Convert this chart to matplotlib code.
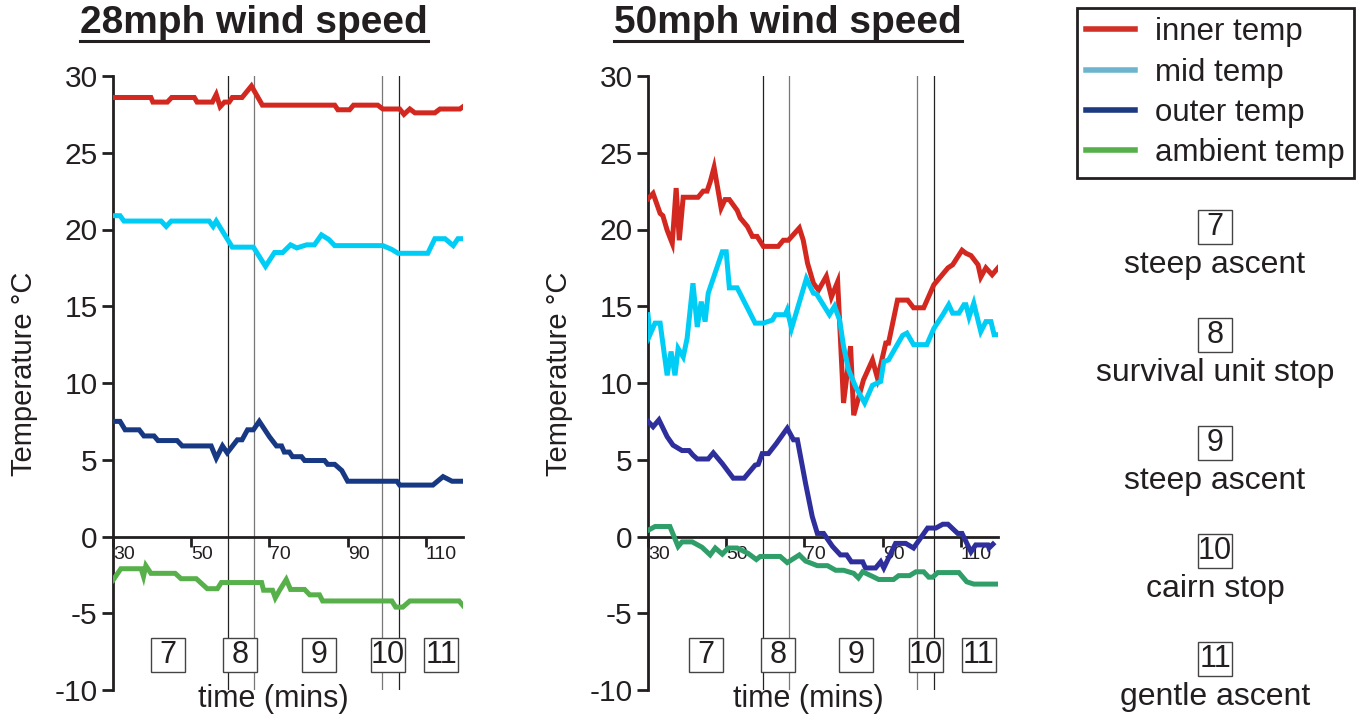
import numpy as np
import matplotlib
matplotlib.use('Agg')
import matplotlib.pyplot as plt
from matplotlib.lines import Line2D

plt.rcParams['font.family'] = ['Liberation Sans', 'DejaVu Sans']
plt.rcParams['axes.unicode_minus'] = False

# ---- data ----
# 28mph
l_inner_t = [30, 39.7, 40.2, 43.9, 45, 50.8, 51.5, 55.4, 56.4, 57.4, 58.5, 59.7, 60.5, 63, 65.4, 68.2, 86.7, 87.5, 90.5, 91.5, 97.7, 99, 103.3, 104.4, 105.9, 107.2, 112.3, 113.6, 118.7, 119.5]
l_inner_v = [28.6, 28.6, 28.3, 28.3, 28.6, 28.6, 28.3, 28.3, 28.8, 28.0, 28.3, 28.3, 28.6, 28.6, 29.35, 28.1, 28.1, 27.8, 27.8, 28.1, 28.1, 27.85, 27.85, 27.5, 27.85, 27.6, 27.6, 27.85, 27.85, 28.0]
l_mid_t = [30, 31.8, 32.8, 42.3, 43.6, 44.9, 54.6, 55.6, 56.4, 60.5, 65.9, 69, 71.3, 73.4, 75.4, 77, 79.5, 81.5, 83.3, 85.2, 86.7, 99, 101.3, 102.9, 110.5, 112.3, 114.9, 117, 118.2, 119.5]
l_mid_v = [20.9, 20.9, 20.55, 20.55, 20.2, 20.55, 20.55, 20.2, 20.55, 18.85, 18.85, 17.6, 18.5, 18.5, 19.0, 18.8, 19.0, 19.0, 19.65, 19.35, 18.95, 18.95, 18.7, 18.45, 18.45, 19.4, 19.4, 18.95, 19.4, 19.4]
l_outer_t = [30, 31.8, 33.1, 36.7, 37.9, 40.5, 41.5, 46.4, 47.7, 55.1, 56.4, 58, 59.2, 61.8, 63, 64.4, 65.9, 67.4, 70, 71.8, 73.1, 73.8, 75.1, 75.9, 78.2, 79, 84.1, 84.9, 86.7, 88.5, 90, 102.6, 103.3, 111.8, 114.4, 116.7, 119.5]
l_outer_v = [7.5, 7.5, 6.95, 6.95, 6.55, 6.55, 6.25, 6.25, 5.9, 5.9, 5.1, 5.9, 5.45, 6.3, 6.3, 6.95, 6.95, 7.5, 6.5, 5.9, 5.9, 5.5, 5.5, 5.2, 5.2, 4.95, 4.95, 4.7, 4.7, 4.3, 3.6, 3.6, 3.35, 3.35, 3.9, 3.6, 3.6]
l_amb_t = [30, 32, 37.2, 37.8, 38.4, 39.7, 45.9, 47.4, 51.3, 54.1, 56.7, 57.7, 68, 68.5, 70.8, 71.5, 72.6, 74.3, 75.4, 79, 80.3, 82.8, 83.6, 101.3, 102.3, 104.1, 105.9, 118.5, 119.5]
l_amb_v = [-2.85, -2.1, -2.1, -2.6, -1.9, -2.4, -2.4, -2.75, -2.75, -3.4, -3.4, -3.0, -3.0, -3.5, -3.5, -4.0, -3.5, -2.8, -3.45, -3.45, -3.8, -3.8, -4.2, -4.2, -4.6, -4.6, -4.2, -4.2, -4.5]

# 50mph
r_inner_t = [30, 31.3, 33.1, 33.8, 34.9, 36.2, 37.2, 38, 39, 42.8, 44.1, 45.1, 45.9, 46.9, 48.7, 49.7, 50.8, 52.8, 53.6, 55.4, 56.7, 57.9, 59.5, 63.3, 64.6, 65.9, 68.7, 69.7, 70.8, 72.3, 73.6, 75.6, 76.9, 78.5, 80, 81.8, 82.6, 85.1, 87.4, 88.7, 90.8, 91.5, 93.8, 96.4, 97.9, 100.5, 103.1, 106.7, 107.9, 110.3, 111.3, 112.6, 114.4, 115.1, 116.4, 118, 119.5]
r_inner_v = [22.0, 22.35, 21.05, 20.9, 19.95, 19.1, 22.7, 19.3, 22.1, 22.1, 22.5, 22.5, 23.1, 24.05, 21.4, 21.95, 21.95, 21.25, 20.75, 20.2, 19.55, 19.55, 18.9, 18.9, 19.3, 19.3, 20.1, 19.3, 17.8, 16.5, 16.05, 16.95, 15.6, 16.6, 8.7, 12.4, 7.9, 10.2, 11.5, 10.3, 12.6, 12.6, 15.4, 15.4, 14.9, 14.9, 16.4, 17.5, 17.7, 18.65, 18.45, 18.3, 17.7, 16.9, 17.5, 17.05, 17.5]
r_mid_t = [30, 30.5, 31.8, 33.1, 34.9, 35.9, 36.9, 37.7, 39, 40, 41.5, 42.6, 43.6, 44.6, 45.4, 49, 50, 50.8, 52.8, 57.4, 59.5, 61.8, 62.6, 65.1, 65.6, 66.7, 70.5, 72.3, 73.1, 76.4, 77.7, 79, 80, 81.3, 83.1, 85.4, 87.4, 89.5, 90.3, 91.5, 95.1, 96.2, 97.9, 101.3, 103.1, 105.4, 106.9, 107.9, 109.5, 110.8, 111.3, 112.1, 113.3, 115.1, 116.4, 117.7, 118.5, 119.5]
r_mid_v = [14.45, 13.15, 13.9, 13.9, 10.5, 12.05, 10.5, 12.25, 11.7, 12.9, 16.5, 13.65, 15.3, 14.0, 15.85, 18.55, 18.55, 16.2, 16.2, 13.9, 13.9, 14.1, 14.45, 14.45, 14.75, 13.55, 16.8, 15.85, 15.8, 14.45, 15.0, 14.1, 12.4, 10.85, 9.75, 8.7, 9.85, 10.1, 11.4, 11.5, 13.1, 13.25, 12.5, 12.5, 13.55, 14.45, 15.1, 14.55, 14.55, 15.1, 15.1, 14.3, 15.2, 13.35, 14.0, 14.0, 13.15, 13.15]
r_outer_t = [30, 31.3, 32.8, 34.9, 36.4, 38.7, 40.5, 41.5, 42.6, 45.4, 46.7, 49, 51.8, 54.6, 57.4, 58.2, 59.2, 60.8, 62.8, 65.6, 67.2, 68.2, 70.3, 72, 73.3, 74.9, 77.2, 79.2, 80.8, 82, 84.9, 85.6, 88.2, 89.5, 90.3, 93.3, 95.9, 97.9, 101.5, 103.6, 105.4, 106.7, 109.2, 110.3, 112.6, 113.8, 116.9, 117.2, 118.2]
r_outer_v = [7.5, 7.15, 7.6, 6.5, 5.95, 5.6, 5.6, 5.3, 5.05, 5.05, 5.45, 4.75, 3.8, 3.8, 4.65, 4.7, 5.4, 5.4, 6.05, 7.05, 6.3, 6.3, 3.45, 1.3, 0.2, 0.2, -0.65, -1.2, -1.2, -1.65, -1.65, -2.05, -2.05, -1.65, -2.05, -0.45, -0.45, -0.75, 0.55, 0.55, 0.8, 0.8, 0.2, 0.2, -1.0, -0.55, -0.55, -0.75, -0.5]
r_amb_t = [30, 31.8, 35.6, 37.7, 38.7, 41.3, 43.8, 45.9, 47.2, 49, 50.5, 52.8, 55.6, 57.7, 58.7, 63.8, 65.6, 68.7, 70.3, 73.3, 75.9, 78, 80, 82.6, 83.8, 84.9, 87.4, 89, 92.8, 94.1, 96.9, 98.5, 100.5, 101.8, 102.8, 104.1, 109.5, 111.5, 113.3, 119.5]
r_amb_v = [0.4, 0.65, 0.65, -0.65, -0.35, -0.35, -0.7, -1.2, -0.75, -1.15, -0.75, -0.75, -1.1, -1.5, -1.3, -1.3, -1.7, -1.2, -1.6, -1.9, -1.9, -2.2, -2.2, -2.4, -2.7, -2.3, -2.6, -2.8, -2.8, -2.55, -2.55, -2.3, -2.3, -2.65, -2.65, -2.35, -2.35, -2.95, -3.1, -3.1]

stage_lines = [59.3, 66.0, 98.7, 103.1]
stage_nums = ['7', '8', '9', '10', '11']
stage_x_28 = [44.1, 62.6, 82.8, 100.3, 114.0]
stage_x_50 = [44.9, 63.3, 83.3, 101.0, 114.6]
stage_names = ['steep ascent', 'survival unit stop', 'steep ascent', 'cairn stop', 'gentle ascent']

titles = ['28mph wind speed', '50mph wind speed']
legend_labels = ['inner temp', 'mid temp', 'outer temp', 'ambient temp']
legend_colors = ['#d13029', '#6db5cf', '#1b3a80', '#56b04a']

W, H = 1361, 718
fig = plt.figure(figsize=(W / 100, H / 100), dpi=100)

def px(x0, y0, w, h):
    # pixel box (from top-left) -> figure fraction
    return [x0 / W, 1 - (y0 + h) / H, w / W, h / H]

ax1 = fig.add_axes(px(113, 76, 350, 614))
ax2 = fig.add_axes(px(648, 76, 350, 614))

panels = [
    (ax1, [(l_inner_t, l_inner_v, '#d3281f'), (l_mid_t, l_mid_v, '#00cdf6'),
           (l_outer_t, l_outer_v, '#173882'), (l_amb_t, l_amb_v, '#58b04b')], stage_x_28),
    (ax2, [(r_inner_t, r_inner_v, '#d3281f'), (r_mid_t, r_mid_v, '#00cdf6'),
           (r_outer_t, r_outer_v, '#2e2e9c'), (r_amb_t, r_amb_v, '#2f9e68')], stage_x_50),
]

for k, (ax, series, sx) in enumerate(panels):
    for t, v, c in series:
        ax.plot(t, v, color=c, lw=3.6, solid_joinstyle='miter', zorder=3)
    for i, xv in enumerate(stage_lines):
        ax.plot([xv, xv], [-10, 30], color='#222222' if i in (0, 3) else '#777777', lw=0.9, zorder=2)
    # boxed stage numbers
    ax.plot(sx, [-7.75] * len(sx), ls='none', marker='s', ms=24.5, mfc='white', mec='#444444', mew=1.0, zorder=4)
    for xv, s in zip(sx, stage_nums):
        ax.text(xv, -7.75, s, ha='center', va='center', fontsize=22, color='#231f20', zorder=5)

    ax.set_xlim(30, 119.5)
    ax.set_ylim(-10, 30)
    ax.spines['top'].set_visible(False)
    ax.spines['right'].set_visible(False)
    ax.spines['bottom'].set_position(('data', 0))
    ax.spines['left'].set_linewidth(2)
    ax.spines['bottom'].set_linewidth(2)
    ax.spines['left'].set_color('#231f20')
    ax.spines['bottom'].set_color('#231f20')
    ax.set_yticks(range(-10, 31, 5))
    ax.set_xticks([30, 50, 70, 90, 110])
    ax.tick_params(axis='y', direction='out', length=8, width=2, labelsize=21.5, pad=3, colors='#231f20')
    ax.tick_params(axis='x', direction='out', length=7, width=2, labelsize=14, pad=0, colors='#231f20')
    for lbl in ax.get_xticklabels():
        lbl.set_horizontalalignment('left')
    ax.set_ylabel('Temperature °C', fontsize=21, color='#231f20')
    ax.yaxis.set_label_coords(-0.215, 0.515)
    ax.text(0.458, -0.014, 'time (mins)', transform=ax.transAxes, ha='center', va='center',
            fontsize=22, color='#231f20')
    ax.patch.set_alpha(0)

# titles with underline
title_texts = []
for ttl, cx in zip(titles, [254, 788]):
    t = fig.text(cx / W, 1 - 33 / H, ttl, ha='center', va='baseline', fontsize=28,
                 fontweight='bold', color='#231f20')
    title_texts.append(t)
fig.canvas.draw()
for t in title_texts:
    bb = t.get_window_extent()
    fig.add_artist(Line2D([bb.x0 / W, bb.x1 / W], [1 - 41 / H, 1 - 41 / H],
                          transform=fig.transFigure, color='#231f20', lw=2.2))

# legend
handles = [Line2D([], [], color=c, lw=4) for c in legend_colors]
leg = fig.legend(handles, legend_labels, loc='upper left', bbox_to_anchor=(1077 / W, 1 - 8 / H),
                 fontsize=22.5, frameon=True, fancybox=False, edgecolor='#231f20', framealpha=1,
                 borderaxespad=0, borderpad=0.3, handlelength=1.55, handletextpad=0.65,
                 labelspacing=0.33)
leg.get_frame().set_linewidth(2)
for txt in leg.get_texts():
    txt.set_color('#231f20')

# stage descriptions on the right
for i, (num, name) in enumerate(zip(stage_nums, stage_names)):
    yb = 227 + i * 108
    fig.add_artist(Line2D([1215 / W], [1 - yb / H], transform=fig.transFigure, ls='none',
                          marker='s', ms=24.5, mfc='white', mec='#444444', mew=1.0))
    fig.text(1215 / W, 1 - yb / H, num, ha='center', va='center', fontsize=22, color='#231f20')
    fig.text(1215 / W, 1 - (yb + 38) / H, name, ha='center', va='center', fontsize=23, color='#231f20')

fig.savefig('out.png', dpi=100)
